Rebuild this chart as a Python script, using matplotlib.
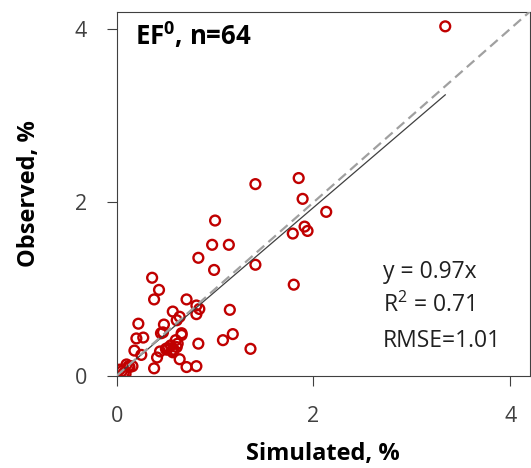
import numpy as np
import matplotlib.pyplot as plt

plt.rcParams['font.family'] = ['Open Sans', 'DejaVu Sans']
plt.rcParams['mathtext.fontset'] = 'custom'
plt.rcParams['mathtext.rm'] = 'Open Sans'
plt.rcParams['mathtext.bf'] = 'Open Sans:bold'

# Simulated vs observed (%)
simulated = [3.34, 1.41, 1.85, 1.89, 2.13, 1.00, 1.91, 1.94, 1.79, 0.97,
             1.14, 0.83, 1.41, 0.99, 0.36, 1.80, 0.43, 0.38, 0.71, 0.81,
             0.84, 0.81, 0.57, 0.64, 0.61, 1.15, 0.22, 0.48, 0.45, 0.66,
             0.27, 0.20, 0.60, 1.18, 1.08, 0.83, 0.55, 0.61, 0.51, 0.56,
             0.44, 0.18, 0.25, 1.36, 0.41, 0.64, 0.38, 0.71, 0.81, 0.16,
             0.10, 0.03, 0.07, 0.13, 0.52, 0.58, 0.62, 0.47, 0.05, 0.09,
             0.12, 0.57, 0.66, 0.50]
observed = [4.03, 2.21, 2.28, 2.04, 1.89, 1.79, 1.72, 1.67, 1.64, 1.51,
            1.51, 1.36, 1.28, 1.22, 1.13, 1.05, 0.99, 0.88, 0.88, 0.81,
            0.77, 0.71, 0.74, 0.68, 0.64, 0.76, 0.60, 0.59, 0.49, 0.49,
            0.44, 0.43, 0.41, 0.48, 0.41, 0.37, 0.35, 0.33, 0.30, 0.29,
            0.28, 0.29, 0.24, 0.31, 0.21, 0.19, 0.085, 0.10, 0.11, 0.11,
            0.13, 0.07, 0.03, 0.10, 0.32, 0.30, 0.37, 0.50, 0.05, 0.02,
            0.11, 0.27, 0.47, 0.31]

slope = 0.97
axis_max = 4.2
ticks = [0, 2, 4]

fig = plt.figure(figsize=(5.31, 4.68), dpi=100)
ax = fig.add_axes([0.2198, 0.1972, 0.778, 0.778])

ax.scatter(simulated, observed, s=50, facecolors='none', edgecolors='#C00000',
           linewidths=1.7, zorder=2)

# regression line through origin over data range
xfit = np.array([0, max(simulated)])
ax.plot(xfit, slope * xfit, color='#404040', lw=0.9, zorder=3)

# 1:1 line
ax.plot([0, axis_max], [0, axis_max], color='#A0A0A0', lw=1.6,
        dashes=(4.5, 2.5), zorder=3)

ax.set_xlim(0, axis_max)
ax.set_ylim(0, axis_max)
ax.set_xticks(ticks)
ax.set_yticks(ticks)
ax.tick_params(direction='out', length=7.5, width=0.8, color='#404040',
               labelsize=15.5, labelcolor='#404040', pad=14)
for sp in ax.spines.values():
    sp.set_color('#404040')
    sp.set_linewidth(0.8)

ax.set_xlabel('Simulated, %', fontsize=17, fontweight='bold', labelpad=11)
ax.set_ylabel('Observed, %', fontsize=17, fontweight='bold', labelpad=24)

ax.text(0.045, 0.9085, r'EF$^\mathbf{0}$, n=64', transform=ax.transAxes,
        fontsize=18.5, fontweight='bold', va='baseline', ha='left')

stats = ['y = 0.97x', 'R$^2$ = 0.71', 'RMSE=1.01']
for i, s in enumerate(stats):
    ax.text(0.645, 0.268 - i * 0.094, s, transform=ax.transAxes,
            fontsize=16.5, color='#202020', va='baseline', ha='left')

plt.savefig('out.png', dpi=100)
